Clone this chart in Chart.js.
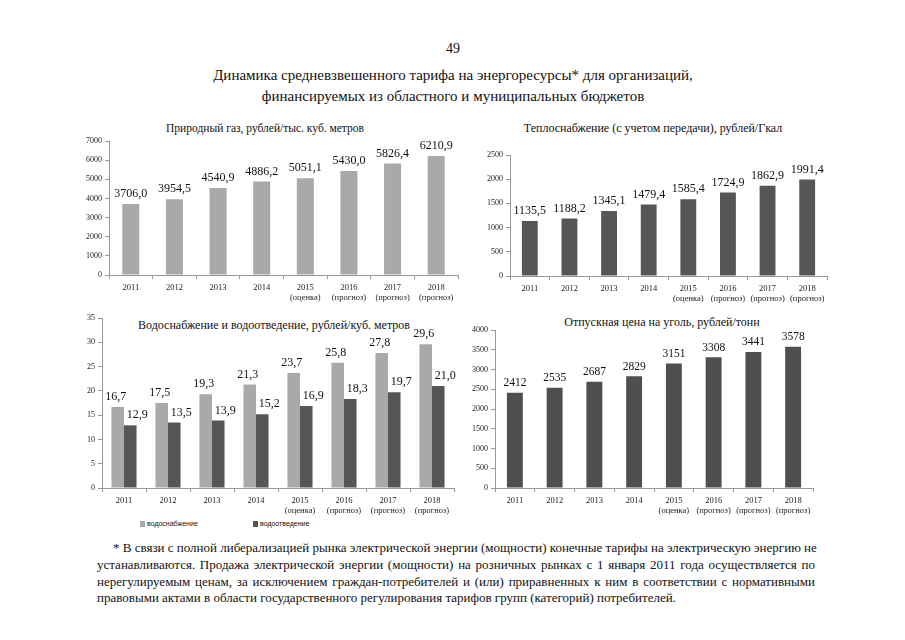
<!DOCTYPE html>
<html><head><meta charset="utf-8">
<script src="https://cdn.jsdelivr.net/npm/chart.js@4.4.1/dist/chart.umd.min.js"></script>
<style>
body{margin:0;width:905px;height:640px;background:#fff;position:relative;overflow:hidden;font-family:'Liberation Serif','Times New Roman',serif;color:#111}
.c{position:absolute;white-space:nowrap;transform:translate(-50%,-50%)}
.fn{position:absolute;left:97px;width:718px;font-size:13px;white-space:nowrap;text-align:justify;text-align-last:justify;line-height:16px}
.lg{position:absolute;font-family:'Liberation Sans',sans-serif;font-size:7px;top:520px;white-space:nowrap}
.lg i{display:inline-block;width:5px;height:6px;margin-right:2px;vertical-align:-1px}
</style></head><body>
<div class="c" style="left:453px;top:49px;font-size:14px">49</div>
<div class="c" style="left:453px;top:75px;font-size:15px">Динамика средневзвешенного тарифа на энергоресурсы* для организаций,</div>
<div class="c" style="left:453px;top:96px;font-size:15px">финансируемых из областного и муниципальных бюджетов</div>
<div class="c" style="left:265px;top:128px;font-size:11.5px">Природный газ, рублей/тыс. куб. метров</div>
<div class="c" style="left:653px;top:128px;font-size:12px">Теплоснабжение (с учетом передачи), рублей/Гкал</div>
<div class="c" style="left:274px;top:325px;font-size:12px">Водоснабжение и водоотведение, рублей/куб. метров</div>
<div class="c" style="left:662px;top:322px;font-size:12px">Отпускная цена на уголь, рублей/тонн</div>
<div class="lg" style="left:140px"><i style="background:#a9a9a9"></i>водоснабжение</div>
<div class="lg" style="left:253px"><i style="background:#565656"></i>водоотведение</div>
<div class="fn" style="top:540px;left:113px;width:702px">* В связи с полной либерализацией рынка электрической энергии (мощности) конечные тарифы на электрическую энергию не</div>
<div class="fn" style="top:557px">устанавливаются. Продажа электрической энергии (мощности) на розничных рынках с 1 января 2011 года осуществляется по</div>
<div class="fn" style="top:574px">нерегулируемым ценам, за исключением граждан-потребителей и (или) приравненных к ним в соответствии с нормативными</div>
<div class="fn" style="top:590px;text-align:left;text-align-last:left">правовыми актами в области государственного регулирования тарифов групп (категорий) потребителей.</div>
<script>
const years = [['2011'],['2012'],['2013'],['2014'],['2015','(оценка)'],['2016','(прогноз)'],['2017','(прогноз)'],['2018','(прогноз)']];
const gasValues = [3706.0, 3954.5, 4540.9, 4886.2, 5051.1, 5430.0, 5826.4, 6210.9];
const heatValues = [1135.5, 1188.2, 1345.1, 1479.4, 1585.4, 1724.9, 1862.9, 1991.4];
const waterSupply = [16.7, 17.5, 19.3, 21.3, 23.7, 25.8, 27.8, 29.6];
const waterDisposal = [12.9, 13.5, 13.9, 15.2, 16.9, 18.3, 19.7, 21.0];
const coalValues = [2412, 2535, 2687, 2829, 3151, 3308, 3441, 3578];

const SERIF = "'Liberation Serif','Times New Roman',serif";
const LIGHT = '#a9a9a9', DARK = '#565656';
const fmt1 = v => v.toFixed(1).replace('.', ',');
const fmt0 = v => String(v);

const valueLabels = {
  id: 'valueLabels',
  afterDatasetsDraw(chart, args, opts) {
    const ctx = chart.ctx;
    ctx.save();
    ctx.font = opts.size + 'px ' + SERIF;
    ctx.fillStyle = '#111';
    ctx.textAlign = 'center';
    ctx.textBaseline = 'bottom';
    chart.data.datasets.forEach((ds, i) => {
      const meta = chart.getDatasetMeta(i);
      const dx = (opts.dx && opts.dx[i]) || 0;
      meta.data.forEach((bar, j) => {
        ctx.fillText(opts.fmt(ds.data[j]), bar.x + dx, bar.y - 4);
      });
    });
    ctx.restore();
  }
};

function makeChart(area, datasets, yMax, yStep, labelOpts) {
  const padL = 50, padR = 8, padT = 10, xH = 35;
  const div = document.createElement('div');
  div.style.cssText = `position:absolute;left:${area.l - padL}px;top:${area.t - padT}px;width:${area.r - area.l + padL + padR}px;height:${area.b - area.t + padT + xH}px`;
  const cv = document.createElement('canvas');
  div.appendChild(cv);
  document.body.appendChild(div);
  new Chart(cv, {
    type: 'bar',
    data: { labels: years, datasets },
    plugins: [valueLabels],
    options: {
      responsive: true, maintainAspectRatio: false, animation: false,
      layout: { padding: { top: padT, right: padR, left: 0, bottom: 0 } },
      plugins: { legend: { display: false }, tooltip: { enabled: false }, valueLabels: labelOpts },
      scales: {
        x: {
          offset: true,
          grid: { display: true, drawOnChartArea: false, tickLength: 4, color: '#999', offset: true },
          border: { color: '#999' },
          ticks: { font: { family: SERIF, size: 8.5, lineHeight: 1.15 }, color: '#222', padding: 4, maxRotation: 0, autoSkip: false },
          afterFit(s) { s.height = xH; }
        },
        y: {
          min: 0, max: yMax,
          grid: { display: true, drawOnChartArea: false, tickLength: 4, color: '#999' },
          border: { color: '#999' },
          ticks: { stepSize: yStep, font: { family: SERIF, size: 8 }, color: '#222', padding: 3, callback: v => String(v) },
          afterFit(s) { s.width = padL; }
        }
      }
    }
  });
}

makeChart({ l: 109, r: 458, t: 141, b: 275 },
  [{ label: 'Природный газ', data: gasValues, backgroundColor: LIGHT, barPercentage: 0.39, categoryPercentage: 1 }],
  7000, 1000, { size: 12, fmt: fmt1 });

makeChart({ l: 510, r: 827, t: 155, b: 276 },
  [{ label: 'Теплоснабжение', data: heatValues, backgroundColor: DARK, barPercentage: 0.4, categoryPercentage: 1 }],
  2500, 500, { size: 12, fmt: fmt1 });

makeChart({ l: 102, r: 454, t: 318, b: 488 },
  [{ label: 'водоснабжение', data: waterSupply, backgroundColor: LIGHT, barPercentage: 1, categoryPercentage: 0.57 },
   { label: 'водоотведение', data: waterDisposal, backgroundColor: DARK, barPercentage: 1, categoryPercentage: 0.57 }],
  35, 5, { size: 12, fmt: fmt1, dx: [-2, 7] });

makeChart({ l: 495, r: 813, t: 330, b: 488 },
  [{ label: 'Уголь', data: coalValues, backgroundColor: '#4f4f4f', barPercentage: 0.4, categoryPercentage: 1 }],
  4000, 500, { size: 11.5, fmt: fmt0 });
</script>
</body></html>
